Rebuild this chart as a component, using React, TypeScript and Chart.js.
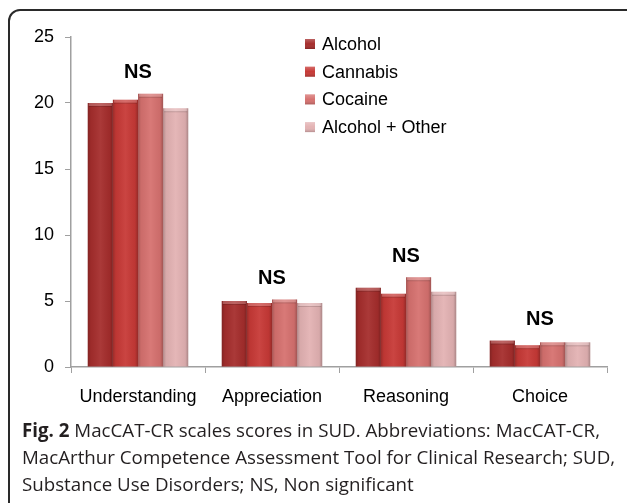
import React, { useEffect, useRef } from "react";
import { Chart, registerables } from "chart.js";

Chart.register(...registerables);

const categories = ["Understanding", "Appreciation", "Reasoning", "Choice"];
const seriesNames = ["Alcohol", "Cannabis", "Cocaine", "Alcohol + Other"];
const alcohol = [20.0, 5.0, 6.0, 2.0];
const cannabis = [20.25, 4.85, 5.55, 1.65];
const cocaine = [20.7, 5.12, 6.8, 1.87];
const alcoholOther = [19.6, 4.85, 5.7, 1.87];
const seriesColors = ["#a52d2c", "#c73936", "#d6716f", "#e3b2b3"];
const significance = ["NS", "NS", "NS", "NS"];
const yTicks = [0, 5, 10, 15, 20, 25];
const captionBold = "Fig. 2";
const captionLines = [
  " MacCAT-CR scales scores in SUD. Abbreviations: MacCAT-CR,",
  "MacArthur Competence Assessment Tool for Clinical Research; SUD,",
  "Substance Use Disorders; NS, Non significant",
];

const FONT = '"Liberation Sans", Arial, sans-serif';

const decorPlugin = {
  id: "decor",
  afterDatasetsDraw(chart: any) {
    const ctx = chart.ctx;
    // bar shading
    chart.data.datasets.forEach((ds: any, di: number) => {
      const meta = chart.getDatasetMeta(di);
      meta.data.forEach((bar: any) => {
        const { x, y, base, width } = bar.getProps(["x", "y", "base", "width"], true);
        const l = x - width / 2;
        const h = base - y;
        ctx.save();
        const g = ctx.createLinearGradient(l, 0, l + width, 0);
        g.addColorStop(0, "rgba(0,0,0,0.22)");
        g.addColorStop(0.12, "rgba(0,0,0,0.05)");
        g.addColorStop(0.5, "rgba(255,255,255,0.06)");
        g.addColorStop(0.88, "rgba(0,0,0,0.05)");
        g.addColorStop(1, "rgba(0,0,0,0.25)");
        ctx.fillStyle = g;
        ctx.fillRect(l, y, width, h);
        ctx.fillStyle = "rgba(255,255,255,0.22)";
        ctx.fillRect(l + 1, y, width - 2, 3);
        ctx.fillStyle = "rgba(0,0,0,0.15)";
        ctx.fillRect(l + 1, y + 3, width - 2, 1);
        ctx.restore();
      });
    });
    // NS labels
    const n = chart.data.labels.length;
    ctx.save();
    ctx.font = "bold 20px " + FONT;
    ctx.fillStyle = "#000";
    ctx.textAlign = "center";
    ctx.textBaseline = "middle";
    for (let i = 0; i < n; i++) {
      let top = Infinity;
      chart.data.datasets.forEach((ds: any, di: number) => {
        const el = chart.getDatasetMeta(di).data[i];
        if (el && el.y < top) top = el.y;
      });
      const cx = chart.scales.x.getPixelForValue(i);
      ctx.fillText(significance[i], cx, top - 21);
    }
    ctx.restore();
  },
  afterDraw(chart: any) {
    const ctx = chart.ctx;
    // legend
    ctx.save();
    chart.data.datasets.forEach((ds: any, i: number) => {
      const cy = 44 + i * 27.7;
      const bx = 305;
      ctx.fillStyle = ds.backgroundColor;
      ctx.fillRect(bx, cy - 5, 10, 10);
      const g = ctx.createLinearGradient(bx, cy - 5, bx, cy + 5);
      g.addColorStop(0, "rgba(255,255,255,0.25)");
      g.addColorStop(0.5, "rgba(255,255,255,0)");
      g.addColorStop(1, "rgba(0,0,0,0.2)");
      ctx.fillStyle = g;
      ctx.fillRect(bx, cy - 5, 10, 10);
      ctx.fillStyle = "#000";
      ctx.font = "18px " + FONT;
      ctx.textBaseline = "middle";
      ctx.textAlign = "left";
      ctx.fillText(ds.label, 322, cy + 1);
    });
    ctx.restore();

    // border frame
    ctx.save();
    ctx.strokeStyle = "#2a2a2a";
    ctx.lineWidth = 2;
    const r = 11;
    ctx.beginPath();
    ctx.moveTo(9, 503);
    ctx.lineTo(9, 10 + r);
    ctx.arcTo(9, 10, 9 + r, 10, r);
    ctx.lineTo(627, 10);
    ctx.stroke();
    ctx.restore();

    // caption
    ctx.save();
    ctx.fillStyle = "#231f20";
    ctx.textBaseline = "middle";
    ctx.textAlign = "left";
    const boldFont = 'bold 19px "Open Sans", sans-serif';
    const normFont = '19px "Open Sans", sans-serif';
    ctx.font = boldFont;
    const wb = ctx.measureText(captionBold).width;
    ctx.font = normFont;
    const w1 = ctx.measureText(captionLines[0]).width;
    const fx = 578 / (wb + w1);
    const ys = [432, 459, 486];
    const x0 = 22;
    ctx.translate(x0, 0);
    ctx.scale(fx, 1);
    ctx.font = boldFont;
    ctx.fillText(captionBold, 0, ys[0]);
    ctx.font = normFont;
    ctx.fillText(captionLines[0], wb, ys[0]);
    ctx.fillText(captionLines[1], 0, ys[1]);
    ctx.fillText(captionLines[2], 0, ys[2]);
    ctx.restore();
  },
};

export default function App() {
  const ref = useRef<HTMLCanvasElement>(null);
  useEffect(() => {
    const canvas = ref.current;
    if (!canvas) return;
    const values = [alcohol, cannabis, cocaine, alcoholOther];
    const chart = new Chart(canvas, {
      type: "bar",
      data: {
        labels: categories,
        datasets: seriesNames.map((name, i) => ({
          label: name,
          data: values[i],
          backgroundColor: seriesColors[i],
          borderWidth: 0,
          categoryPercentage: 0.75,
          barPercentage: 1.0,
        })),
      },
      options: {
        responsive: false,
        animation: false,
        devicePixelRatio: 1,
        layout: { padding: { left: 10, right: 20, top: 37, bottom: 96 } },
        plugins: {
          legend: { display: false },
          tooltip: { enabled: false },
        },
        scales: {
          x: {
            offset: true,
            grid: {
              offset: true,
              drawOnChartArea: false,
              drawTicks: true,
              tickLength: 6,
              color: "#a0a0a0",
            },
            border: { color: "#a0a0a0", width: 1.5 },
            ticks: {
              color: "#000",
              font: { family: FONT, size: 18 },
              padding: 13,
              maxRotation: 0,
            },
            afterFit: (s: any) => {
              s.height = 40;
            },
          },
          y: {
            min: 0,
            max: 25,
            afterBuildTicks: (s: any) => {
              s.ticks = yTicks.map((v) => ({ value: v }));
            },
            grid: {
              drawOnChartArea: false,
              drawTicks: true,
              tickLength: 6,
              color: "#a0a0a0",
            },
            border: { color: "#a0a0a0", width: 1.5 },
            ticks: {
              color: "#000",
              font: { family: FONT, size: 18 },
              padding: 11,
            },
            afterFit: (s: any) => {
              s.width = 61;
            },
          },
        },
      },
      plugins: [decorPlugin],
    });
    return () => chart.destroy();
  }, []);
  return (
    <div style={{ position: "fixed", left: 0, top: 0, width: 627, height: 503, background: "#fff" }}>
      <canvas ref={ref} width={627} height={503} style={{ display: "block", width: 627, height: 503 }} />
    </div>
  );
}
